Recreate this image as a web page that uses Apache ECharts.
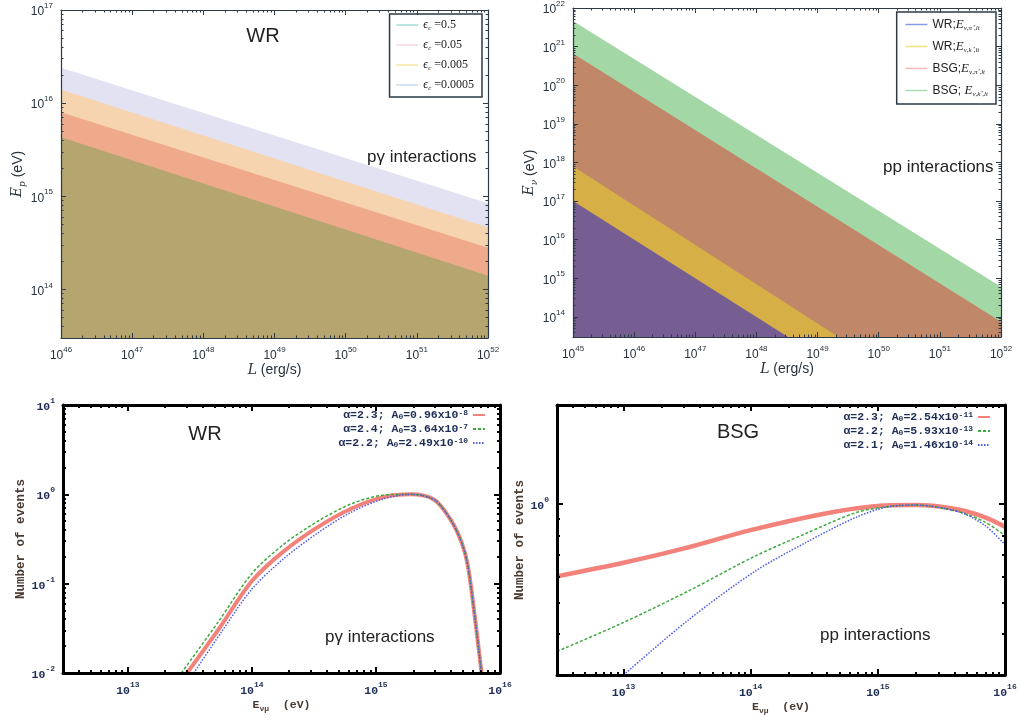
<!DOCTYPE html>
<html><head><meta charset="utf-8">
<script src="https://cdn.jsdelivr.net/npm/echarts@6/dist/echarts.min.js"></script>
<style>html,body{margin:0;padding:0;background:#fff}#c{width:1021px;height:724px}</style>
</head><body><div id="c"></div>
<script>
// ---------- Panel A (WR, p-gamma): max energy vs luminosity, line endpoints ----------
const lumA = [1e46, 1e52];
const wrEps05 = [2.4e16, 8.4e14];
const wrEps005 = [1.4e16, 4.6e14];
const wrEps0005 = [8e15, 2.8e14];
const wrEps00005 = [4.3e15, 1.4e14];
const namesA = ['ϵc =0.5', 'ϵc =0.05', 'ϵc =0.005', 'ϵc =0.0005'];
const richNamesA = ['{e|ϵ}{s|c}{t| =0.5}', '{e|ϵ}{s|c}{t| =0.05}', '{e|ϵ}{s|c}{t| =0.005}', '{e|ϵ}{s|c}{t| =0.0005}'];

// ---------- Panel B (pp): line endpoints [L, E] ----------
const bsgK = [[1e45, 4.6e21], [1e52, 6e14]];
const bsgPi = [[1e45, 6.6e20], [1e52, 7.5e13]];
const wrK = [[1e45, 8e17], [2.2e49, 3e13]];
const wrPi = [[1e45, 1e17], [3.3e48, 3e13]];
const namesB = ['WR;Eν,π+,lt', 'WR;Eν,k+,lt', 'BSG;Eν,π+,lt', 'BSG; Eν,k+,lt'];
const richNamesB = ['{t|WR;}{e|E}{s|ν,π⁺,lt}', '{t|WR;}{e|E}{s|ν,k⁺,lt}', '{t|BSG;}{e|E}{s|ν,π⁺,lt}', '{t|BSG; }{e|E}{s|ν,k⁺,lt}'];

// ---------- Panel C (WR, p-gamma events) ----------
const eC_red = [3.0e13, 5.4e13, 1e14, 1.8e14, 3.4e14, 6.3e14, 1.15e15, 1.9e15, 2.95e15, 4.0e15, 4.9e15, 5.5e15, 6.2e15, 7.1e15];
const nC_red = [0.01, 0.031, 0.107, 0.23, 0.43, 0.69, 0.93, 1.0, 0.87, 0.52, 0.29, 0.16, 0.048, 0.01];
const eC_green = [2.7e13, 5.4e13, 1e14, 1.8e14, 3.4e14, 6.3e14, 1.15e15, 1.9e15, 2.95e15, 4.0e15, 4.9e15, 5.5e15, 6.2e15, 7.1e15];
const nC_green = [0.01, 0.038, 0.13, 0.275, 0.5, 0.78, 0.98, 1.0, 0.87, 0.52, 0.29, 0.16, 0.048, 0.01];
const eC_blue = [3.4e13, 5.6e13, 1e14, 1.8e14, 3.4e14, 6.3e14, 1.15e15, 1.9e15, 2.95e15, 4.0e15, 4.9e15, 5.5e15, 6.2e15, 7.1e15];
const nC_blue = [0.01, 0.028, 0.087, 0.19, 0.37, 0.63, 0.89, 1.0, 0.87, 0.52, 0.29, 0.16, 0.048, 0.01];
const namesC = ['α=2.3; A0=0.96x10^-8', 'α=2.4; A0=3.64x10^-7', 'α=2.2; A0=2.49x10^-10'];
const richNamesC = ['α=2.3; A{s|0}=0.96x10{u|-8}', 'α=2.4; A{s|0}=3.64x10{u|-7}', 'α=2.2; A{s|0}=2.49x10{u|-10}'];

// ---------- Panel D (BSG, pp events) ----------
const eD_red = [3e12, 1e13, 3e13, 1e14, 3.7e14, 9e14, 2e15, 4.3e15, 6.9e15, 1e16];
const nD_red = [0.60, 0.66, 0.73, 0.83, 0.93, 0.98, 0.99, 0.96, 0.91, 0.85];
const eD_green = [3e12, 9.5e12, 3.2e13, 1.07e14, 2.7e14, 6.8e14, 1.23e15, 2e15, 4.3e15, 6.9e15, 1e16];
const nD_green = [0.354, 0.43, 0.54, 0.69, 0.81, 0.94, 0.98, 0.99, 0.945, 0.88, 0.80];
const eD_blue = [1e13, 3.2e13, 1.07e14, 2.7e14, 6.8e14, 1.23e15, 2e15, 4.3e15, 6.9e15, 1e16];
const nD_blue = [0.3, 0.44, 0.62, 0.76, 0.91, 0.98, 0.99, 0.945, 0.86, 0.75];
const namesD = ['α=2.3; A0=2.54x10^-11', 'α=2.2; A0=5.93x10^-13', 'α=2.1; A0=1.46x10^-14'];
const richNamesD = ['α=2.3; A{s|0}=2.54x10{u|-11}', 'α=2.2; A{s|0}=5.93x10{u|-13}', 'α=2.1; A{s|0}=1.46x10{u|-14}'];

// ---------------------------------------------------------------------------
const pair = (xs, ys) => xs.map((x, i) => [x, ys[i]]);
function pow10Label(v) {
  const e = Math.log10(v), r = Math.round(e);
  if (Math.abs(e - r) > 1e-6) return '';
  return '{b|10}{s|' + r + '}';
}
// minor tick positions (2..9 x 10^k) strictly inside the axis range
function minorVals(min, max) {
  const out = [];
  for (let k = Math.floor(Math.log10(min)); k <= Math.ceil(Math.log10(max)); k++) {
    for (let m = 2; m <= 9; m++) {
      const v = m * Math.pow(10, k);
      if (v > min * 1.0001 && v < max * 0.9999) out.push(v);
    }
  }
  return out;
}
const TOP = { line: '#2d3a44', lw: 1.2, tick: 5, mtick: 2.5, tickW: 1, font: 'Liberation Sans', fs: 12, sfs: 8, color: '#26323c', weight: 'normal' };
const BOT = { line: '#000', lw: 3, tick: 6, mtick: 3, tickW: 2, font: 'Liberation Mono', fs: 11.5, sfs: 8, color: '#1e2d55', weight: 'bold' };

function axes(dim, gi, min, max, st, name, nameGap, nameRich, nameColor) {
  const common = {
    type: 'log', gridIndex: gi, min: min, max: max, logBase: 10,
    splitLine: { show: false }, z: 5,
    axisLine: { show: true, onZero: false, lineStyle: { color: st.line, width: st.lw } },
    axisTick: { show: true, inside: true, length: st.tick, lineStyle: { color: st.line, width: st.tickW } }
  };
  const main = Object.assign({}, common, {
    position: dim === 'x' ? 'bottom' : 'left',
    name: name, nameLocation: 'middle', nameGap: nameGap,
    nameTextStyle: { fontFamily: st.font, fontSize: 14, color: nameColor || st.color, fontWeight: st.weight, rich: nameRich },
    axisLabel: {
      show: true, formatter: pow10Label, margin: 8, showMinLabel: true,
      rich: {
        b: { fontFamily: st.font, fontSize: st.fs, color: st.color, fontWeight: st.weight, lineHeight: 16, verticalAlign: 'bottom' },
        s: { fontFamily: st.font, fontSize: st.sfs, color: st.color, fontWeight: st.weight, verticalAlign: 'top' }
      }
    }
  });
  const mirror = Object.assign({}, common, {
    position: dim === 'x' ? 'top' : 'right',
    axisLabel: { show: false }
  });
  const minors = (dim === 'x' ? ['bottom', 'top'] : ['left', 'right']).map(p => ({
    type: 'log', gridIndex: gi, min: min, max: max, position: p, z: 5,
    splitLine: { show: false }, axisLine: { show: false }, axisLabel: { show: false },
    axisTick: { show: true, inside: true, length: st.mtick, customValues: minorVals(min, max),
      lineStyle: { color: st.line, width: st.tickW } }
  }));
  return [main, mirror].concat(minors);
}

const topNameRich = () => ({
  i: { fontFamily: 'DejaVu Serif', fontStyle: 'italic', fontSize: 14, color: '#26323c', lineHeight: 18 },
  s: { fontFamily: 'DejaVu Serif', fontStyle: 'italic', fontSize: 9, color: '#26323c', verticalAlign: 'bottom' },
  t: { fontFamily: 'Liberation Sans', fontSize: 14, color: '#26323c' }
});
const botNameRich = {
  t: { fontFamily: 'Liberation Mono', fontWeight: 'bold', fontSize: 11.5, color: '#4a3a30', lineHeight: 16 },
  s: { fontFamily: 'Liberation Mono', fontWeight: 'bold', fontSize: 8, color: '#4a3a30', verticalAlign: 'bottom' }
};
const botYNameRich = {
  t: { fontFamily: 'Liberation Mono', fontWeight: 'bold', fontSize: 12.5, color: '#4a3a30' }
};

const xA = axes('x', 0, 1e46, 1e52, TOP, '{i|L}{t| (erg/s)}', 22, topNameRich());
const xB = axes('x', 1, 1e45, 1e52, TOP, '{i|L}{t| (erg/s)}', 22, topNameRich());
const xC = axes('x', 2, 3e12, 1e16, BOT, '{t|E}{s|νμ}{t|  (eV)}', 24, botNameRich, '#4a3a30');
const xD = axes('x', 3, 3e12, 1e16, BOT, '{t|E}{s|νμ}{t|  (eV)}', 24, botNameRich, '#4a3a30');
const yA = axes('y', 0, 3e13, 1e17, TOP, '{i|E}{s|p}{t| (eV)}', 34, topNameRich());
const yB = axes('y', 1, 3e13, 1e22, TOP, '{i|E}{s|ν}{t| (eV)}', 34, topNameRich());
const yC = axes('y', 2, 0.01, 10, BOT, '{t|Number of events}', 36, botYNameRich, '#4a3a30');
const yD = axes('y', 3, 0.3, 2, BOT, '{t|Number of events}', 28, botYNameRich, '#4a3a30');
const AX = 4; // axes per dimension per grid; index 0 of each block is the data axis

const bandColorsA = ['#e2e2f3', '#f6d4b0', '#efaa8c', '#b4a66e'];
const legendColorsA = ['#a6dcd6', '#f0d6de', '#f6e6a0', '#c6def0'];
const bandColorsB = ['#a3d7a5', '#c18769', '#d6af46', '#765e92'];
const legendColorsB = ['#8a9ae0', '#f3e27a', '#f3b8b8', '#a8dcb4'];

function band(name, data, color, lcolor, gi) {
  return { type: 'line', name: name, xAxisIndex: gi * AX, yAxisIndex: gi * AX, data: data, symbol: 'none', silent: true,
    itemStyle: { color: lcolor }, lineStyle: { width: 0, color: lcolor }, areaStyle: { color: color, opacity: 1, origin: 'start' } };
}
const series = [
  band(namesA[0], pair(lumA, wrEps05), bandColorsA[0], legendColorsA[0], 0),
  band(namesA[1], pair(lumA, wrEps005), bandColorsA[1], legendColorsA[1], 0),
  band(namesA[2], pair(lumA, wrEps0005), bandColorsA[2], legendColorsA[2], 0),
  band(namesA[3], pair(lumA, wrEps00005), bandColorsA[3], legendColorsA[3], 0),
  band(namesB[3], bsgK, bandColorsB[0], legendColorsB[3], 1),
  band(namesB[2], bsgPi, bandColorsB[1], legendColorsB[2], 1),
  band(namesB[1], wrK, bandColorsB[2], legendColorsB[1], 1),
  band(namesB[0], wrPi, bandColorsB[3], legendColorsB[0], 1)
];
function curve(name, data, color, type, width, gi) {
  return { type: 'line', name: name, xAxisIndex: gi * AX, yAxisIndex: gi * AX, data: data, symbol: 'none', silent: true,
    smooth: 0.3, itemStyle: { color: color }, lineStyle: { color: color, width: width, type: type } };
}
series.push(
  curve(namesC[0], pair(eC_red, nC_red), '#f2827a', 'solid', 4, 2),
  curve(namesC[1], pair(eC_green, nC_green), '#3caa3c', [3, 2], 1.5, 2),
  curve(namesC[2], pair(eC_blue, nC_blue), '#4a5ae6', [1.5, 1.5], 1.5, 2),
  curve(namesD[0], pair(eD_red, nD_red), '#f2827a', 'solid', 4.5, 3),
  curve(namesD[1], pair(eD_green, nD_green), '#3caa3c', [3, 2], 1.5, 3),
  curve(namesD[2], pair(eD_blue, nD_blue), '#4a5ae6', [1.5, 1.5], 1.5, 3)
);

const serifRich = {
  e: { fontFamily: 'Liberation Serif', fontStyle: 'italic', fontSize: 12, color: '#222', lineHeight: 14 },
  s: { fontFamily: 'Liberation Serif', fontStyle: 'italic', fontSize: 7, color: '#222', verticalAlign: 'bottom' },
  t: { fontFamily: 'Liberation Serif', fontSize: 12, color: '#222' }
};
const sansRichB = {
  e: { fontFamily: 'Liberation Serif', fontStyle: 'italic', fontSize: 13, color: '#222', lineHeight: 15 },
  s: { fontFamily: 'Liberation Serif', fontStyle: 'italic', fontSize: 7, color: '#222', verticalAlign: 'bottom' },
  t: { fontFamily: 'Liberation Sans', fontSize: 12, color: '#222' }
};
const monoRich = {
  n: { fontFamily: 'Liberation Mono', fontWeight: 'bold', fontSize: 11.5, color: '#1e2d55', lineHeight: 12 },
  s: { fontFamily: 'Liberation Mono', fontWeight: 'bold', fontSize: 8, color: '#1e2d55', verticalAlign: 'bottom' },
  u: { fontFamily: 'Liberation Mono', fontWeight: 'bold', fontSize: 8, color: '#1e2d55', verticalAlign: 'top' }
};
function richWrap(str) { // wrap plain parts of a mono legend string in {n|...}
  return str.replace(/(^|\})([^{}]+)(?=\{|$)/g, (m, a, b) => a + '{n|' + b + '}');
}
const hideSym = { opacity: 0, borderWidth: 0 };

const legends = [
  { right: 539, top: 14, orient: 'vertical', itemWidth: 22, itemHeight: 12, itemGap: 7, padding: [5, 8, 5, 6],
    borderColor: '#2d3a44', borderWidth: 1.5, backgroundColor: '#fff', selectedMode: false,
    itemStyle: hideSym, lineStyle: { width: 1.5 },
    data: namesA, formatter: n => richNamesA[namesA.indexOf(n)], textStyle: { rich: serifRich } },
  { right: 25, top: 12, orient: 'vertical', itemWidth: 22, itemHeight: 12, itemGap: 8, padding: [6, 8, 6, 8],
    borderColor: '#2d3a44', borderWidth: 1.5, backgroundColor: '#fff', selectedMode: false,
    itemStyle: hideSym, lineStyle: { width: 1.5 },
    data: namesB, formatter: n => richNamesB[namesB.indexOf(n)], textStyle: { rich: sansRichB } },
  { right: 535, top: 409, orient: 'vertical', align: 'right', itemWidth: 12, itemHeight: 8, itemGap: 2, padding: 0,
    selectedMode: false, itemStyle: hideSym, data: namesC,
    formatter: n => richWrap(richNamesC[namesC.indexOf(n)]), textStyle: { rich: monoRich } },
  { right: 30, top: 411, orient: 'vertical', align: 'right', itemWidth: 12, itemHeight: 8, itemGap: 2, padding: 0,
    selectedMode: false, itemStyle: hideSym, data: namesD,
    formatter: n => richWrap(richNamesD[namesD.indexOf(n)]), textStyle: { rich: monoRich } }
];

function label(text, x, y, size, align) {
  return { type: 'text', x: x, y: y, z: 10, style: { text: text, fontFamily: 'Liberation Sans', fontSize: size,
    fill: '#222', align: align || 'left', verticalAlign: 'middle' } };
}
const graphics = [
  label('WR', 263, 36, 20, 'center'),
  label('pγ interactions', 367, 157, 17),
  label('pp interactions', 883, 167, 17),
  label('WR', 205, 434, 20, 'center'),
  label('pγ interactions', 325, 637, 17),
  label('BSG', 738, 432, 20, 'center'),
  label('pp interactions', 820, 635, 17)
];

const chart = echarts.init(document.getElementById('c'), null, { renderer: 'canvas' });
chart.setOption({
  animation: false,
  backgroundColor: '#fff',
  grid: [
    { left: 61, top: 10, width: 427, height: 328 },
    { left: 573, top: 7, width: 428, height: 330 },
    { left: 63, top: 405, width: 437, height: 268 },
    { left: 557, top: 405, width: 448, height: 270 }
  ],
  xAxis: [].concat(xA, xB, xC, xD),
  yAxis: [].concat(yA, yB, yC, yD),
  legend: legends,
  series: series,
  graphic: graphics
});
</script></body></html>
